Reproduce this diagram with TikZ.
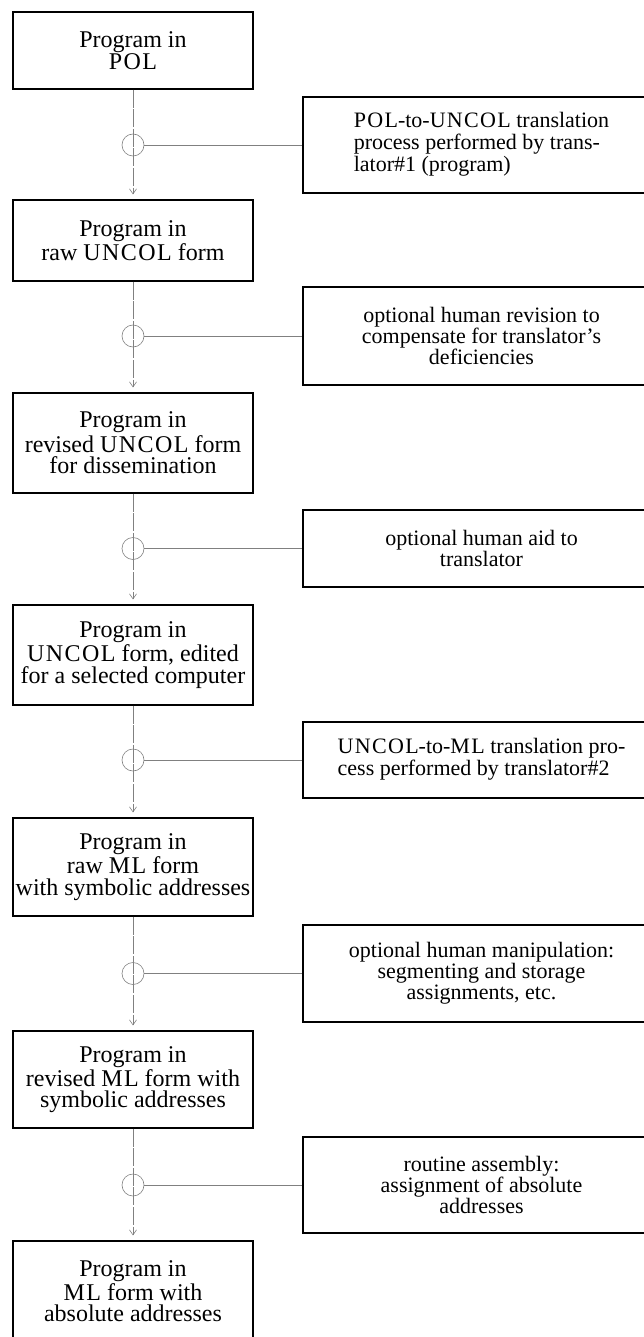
\documentclass[tikz,border=0pt]{standalone}
\usepackage{fontspec}
\setmainfont{Liberation Serif}
\usepackage{tikz}
\usetikzlibrary{arrows.meta}

\newcommand{\acro}[1]{{\addfontfeature{LetterSpace=6}#1}}

\begin{document}
\begin{tikzpicture}[x=0.5pt, y=-0.5pt,
  prog/.style={rectangle, draw=black, line width=0.6pt, minimum width=120pt, inner xsep=1pt, align=center, font=\fontsize{12}{10.8}\selectfont},
  act/.style={rectangle, draw=black, line width=0.6pt, minimum width=178.5pt, align=center, font=\fontsize{11}{10.5}\selectfont},
  joint/.style={circle, draw=gray, line width=0.3pt, minimum size=11pt, inner sep=0pt},
  flow/.style={-{Straight Barb[length=2.5pt, width=3.5pt]}, draw=gray, line width=0.3pt, dash pattern=on 9pt off 0.8pt, shorten >=2.5pt},
  link/.style={draw=gray, line width=0.3pt}]
 \useasboundingbox (0,0) rectangle (643,1337);
 % programs
 \node [prog, minimum height=38.5pt] (P1) at (133, 50.5) {Program in\\\acro{POL}};
 \node [prog, minimum height=40.5pt] (P2) at (133, 240.5) {Program in\\raw \acro{UNCOL} form};
 \node [prog, minimum height=50pt] (P3) at (133, 443) {Program in\\revised \acro{UNCOL} form\\for dissemination};
 \node [prog, minimum height=50pt] (P4) at (133, 655) {Program in\\\acro{UNCOL} form, edited\\for a selected computer};
 \node [prog, minimum height=49pt] (P5) at (133, 867) {Program in\\raw \acro{ML} form\\with symbolic addresses};
 \node [prog, minimum height=48.5pt] (P6) at (133, 1079.5) {Program in\\revised \acro{ML} form with\\symbolic addresses};
 \node [prog, minimum height=50pt] (P7) at (133, 1291) {Program in\\\acro{ML} form with\\absolute addresses};
 % processes
 \node [act, minimum height=48pt] (T1) at (481.5, 145) {\begin{tabular}{@{}l@{}}\multicolumn{1}{@{}c@{}}{\acro{POL}-to-\acro{UNCOL} translation}\\process performed by trans-\\lator\#1 (program)\end{tabular}};
 \node [act, minimum height=49pt] (T2) at (481.5, 336) {optional human revision to\\compensate for translator’s\\deficiencies};
 \node [act, minimum height=38.5pt] (T3) at (481.5, 548.5) {optional human aid to\\translator};
 \node [act, minimum height=38pt] (T4) at (481.5, 760) {\begin{tabular}{@{}l@{}}\acro{UNCOL}-to-\acro{ML} translation pro-\\cess performed by translator\#2\end{tabular}};
 \node [act, minimum height=48.5pt] (T5) at (481.5, 973.5) {optional human manipulation:\\segmenting and storage\\assignments, etc.};
 \node [act, minimum height=48pt] (T6) at (481.5, 1185) {routine assembly:\\assignment of absolute\\addresses};
 % joints
 \node [joint] (C1) at (133, 145) {};
 \node [joint] (C2) at (133, 336) {};
 \node [joint] (C3) at (133, 548.5) {};
 \node [joint] (C4) at (133, 760) {};
 \node [joint] (C5) at (133, 973.5) {};
 \node [joint] (C6) at (133, 1185) {};
 \draw [flow] (P1) to (P2);
 \draw [flow] (P2) to (P3);
 \draw [flow] (P3) to (P4);
 \draw [flow] (P4) to (P5);
 \draw [flow] (P5) to (P6);
 \draw [flow] (P6) to (P7);
 \draw [link] (C1) to (T1);
 \draw [link] (C2) to (T2);
 \draw [link] (C3) to (T3);
 \draw [link] (C4) to (T4);
 \draw [link] (C5) to (T5);
 \draw [link] (C6) to (T6);
\end{tikzpicture}
\end{document}
